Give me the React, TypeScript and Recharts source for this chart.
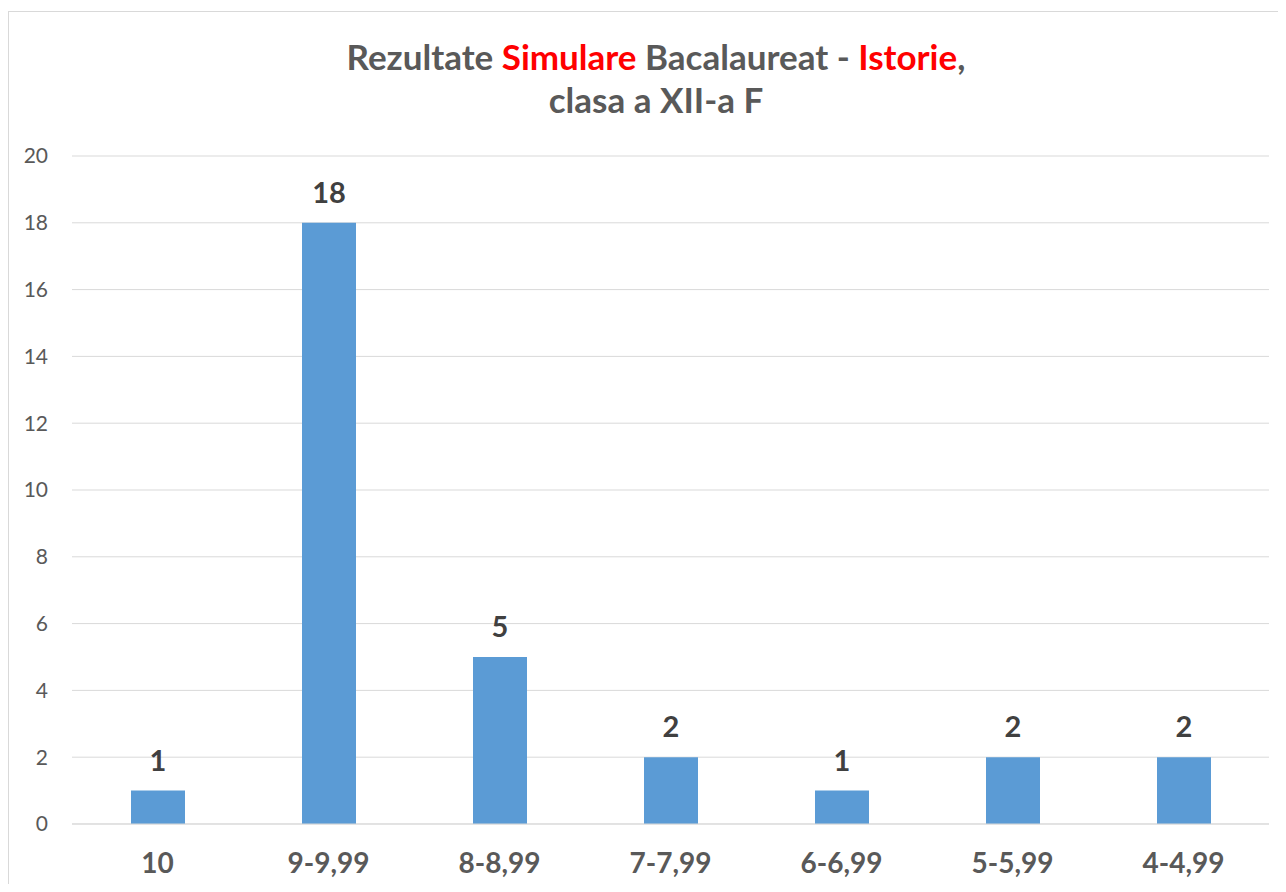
import { Bar, BarChart, CartesianGrid, LabelList, XAxis, YAxis } from "recharts";

const categories = ["10", "9-9,99", "8-8,99", "7-7,99", "6-6,99", "5-5,99", "4-4,99"];
const counts = [1, 18, 5, 2, 1, 2, 2];
const yTicks = [0, 2, 4, 6, 8, 10, 12, 14, 16, 18, 20];

const data = categories.map((grade, i) => ({ grade, count: counts[i] }));

const FONT = "Lato, 'Open Sans', sans-serif";
const GRAY = "#595959";

export default function App() {
  return (
    <div style={{ width: 1270, height: 876, overflow: "hidden", fontFamily: FONT }}>
      <div
        style={{
          position: "relative",
          marginTop: 3,
          width: 1290,
          height: 890,
          border: "1px solid #d9d9d9",
          boxSizing: "border-box",
          background: "#fff",
        }}
      >
        <div
          style={{
            position: "absolute",
            top: 23,
            left: 0,
            width: 1294,
            textAlign: "center",
            fontSize: 35,
            fontWeight: 700,
            lineHeight: "43px",
            color: GRAY,
          }}
        >
          <div>
            Rezultate <span style={{ color: "#ff0000" }}>Simulare</span> Bacalaureat -{" "}
            <span style={{ color: "#ff0000" }}>Istorie</span>,
          </div>
          <div>clasa a XII-a F</div>
        </div>
        <BarChart
          width={1277}
          height={880}
          data={data}
          margin={{ top: 144, right: 17, left: 0, bottom: 0 }}
        >
          <CartesianGrid stroke="#d9d9d9" vertical={false} />
          <XAxis
            dataKey="grade"
            height={68}
            axisLine={{ stroke: "#d9d9d9" }}
            tickLine={false}
            tickSize={0}
            tickMargin={29}
            interval={0}
            tick={{ fill: GRAY, fontSize: 28, fontWeight: 700, fontFamily: FONT }}
          />
          <YAxis
            width={63}
            domain={[0, 20]}
            ticks={yTicks}
            axisLine={false}
            tickLine={false}
            tickSize={0}
            tickMargin={24}
            tick={{ fill: GRAY, fontSize: 21, fontFamily: FONT }}
          />
          <Bar dataKey="count" fill="#5b9bd5" barSize={54} isAnimationActive={false}>
            <LabelList
              dataKey="count"
              position="top"
              offset={20}
              style={{ fill: "#404040", fontSize: 29, fontWeight: 700, fontFamily: FONT }}
            />
          </Bar>
        </BarChart>
      </div>
    </div>
  );
}
